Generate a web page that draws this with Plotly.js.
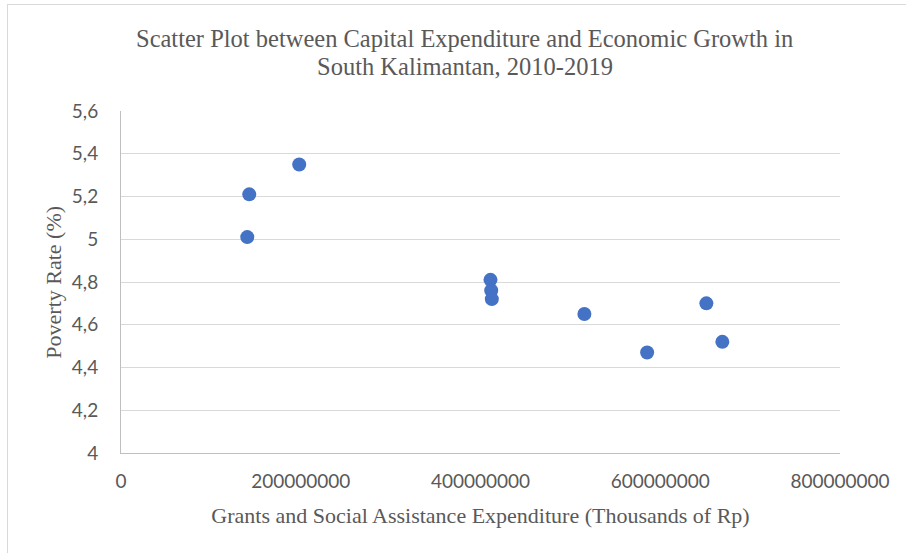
<!DOCTYPE html>
<html>
<head>
<meta charset="utf-8">
<script src="https://cdn.plot.ly/plotly-3.0.1.min.js"></script>
<style>
  html, body { margin: 0; padding: 0; background: #ffffff; }
  #frame { position: absolute; left: 7px; top: 4px; width: 960px; height: 600px;
           border: 1px solid #d9d9d9; box-sizing: border-box; }
  #chart { position: absolute; left: 0; top: 0; width: 906px; height: 553px; }
</style>
</head>
<body>
<div id="frame"></div>
<div id="chart"></div>
<script>
// Grants & social assistance expenditure (thousands of Rp) vs poverty rate (%),
// South Kalimantan 2010-2019
const expenditure = [140500000, 142700000, 198300000, 411100000, 411900000,
                     412600000, 515600000, 585400000, 651300000, 669100000];
const povertyRate = [5.01, 5.21, 5.35, 4.81, 4.76, 4.72, 4.65, 4.47, 4.70, 4.52];

const xTicks = [0, 200000000, 400000000, 600000000, 800000000];
const yTicks = [4, 4.2, 4.4, 4.6, 4.8, 5, 5.2, 5.4, 5.6];

const titleLines = ['Scatter Plot between Capital Expenditure and Economic Growth in',
                    'South Kalimantan, 2010-2019'];
const xTitle = 'Grants and Social Assistance Expenditure (Thousands of Rp)';
const yTitle = 'Poverty Rate (%)';

const serif = '"Liberation Serif", "Times New Roman", serif';
const sans = 'Lato, "Open Sans", sans-serif';
const textGrey = '#595959';

const trace = {
  type: 'scatter',
  mode: 'markers',
  x: expenditure,
  y: povertyRate,
  marker: { color: '#4472c4', size: 14, line: { width: 0 } },
  hoverinfo: 'x+y'
};

// two-line chart title, set as paper annotations for tight line spacing
const titleAnnotations = titleLines.map((line, i) => ({
  text: line,
  xref: 'paper', yref: 'paper',
  x: 0.4784, y: [1.2106, 1.1287][i],
  xanchor: 'center', yanchor: 'middle',
  showarrow: false,
  font: { family: serif, size: 24.5, color: textGrey }
}));

const yTitleAnnotation = {
  text: yTitle,
  xref: 'paper', yref: 'paper',
  x: -0.095, y: 0.5,
  xanchor: 'center', yanchor: 'middle',
  textangle: -90,
  showarrow: false,
  font: { family: serif, size: 22, color: textGrey }
};

const layout = {
  width: 906,
  height: 553,
  paper_bgcolor: 'rgba(0,0,0,0)',
  plot_bgcolor: 'rgba(0,0,0,0)',
  separators: ',.',
  showlegend: false,
  margin: { l: 121, r: 66, t: 111, b: 100 },
  annotations: titleAnnotations.concat([yTitleAnnotation]),
  xaxis: {
    range: [0, 800000000],
    tickvals: xTicks,
    tickformat: 'd',
    showgrid: false,
    zeroline: false,
    showline: true,
    linecolor: '#bfbfbf',
    linewidth: 1,
    ticks: 'outside',
    ticklen: 11,
    tickcolor: 'rgba(0,0,0,0)',
    tickfont: { family: sans, size: 19, color: textGrey },
    title: {
      text: xTitle,
      font: { family: serif, size: 22, color: textGrey },
      standoff: 16
    },
    fixedrange: true
  },
  yaxis: {
    range: [4, 5.6],
    tickvals: yTicks,
    showgrid: true,
    gridcolor: '#d9d9d9',
    gridwidth: 1,
    zeroline: false,
    showline: true,
    linecolor: '#bfbfbf',
    linewidth: 1,
    ticks: 'outside',
    ticklen: 18,
    tickcolor: 'rgba(0,0,0,0)',
    tickfont: { family: sans, size: 19, color: textGrey },
    fixedrange: true
  }
};

Plotly.newPlot('chart', [trace], layout, { displayModeBar: false });
</script>
</body>
</html>
